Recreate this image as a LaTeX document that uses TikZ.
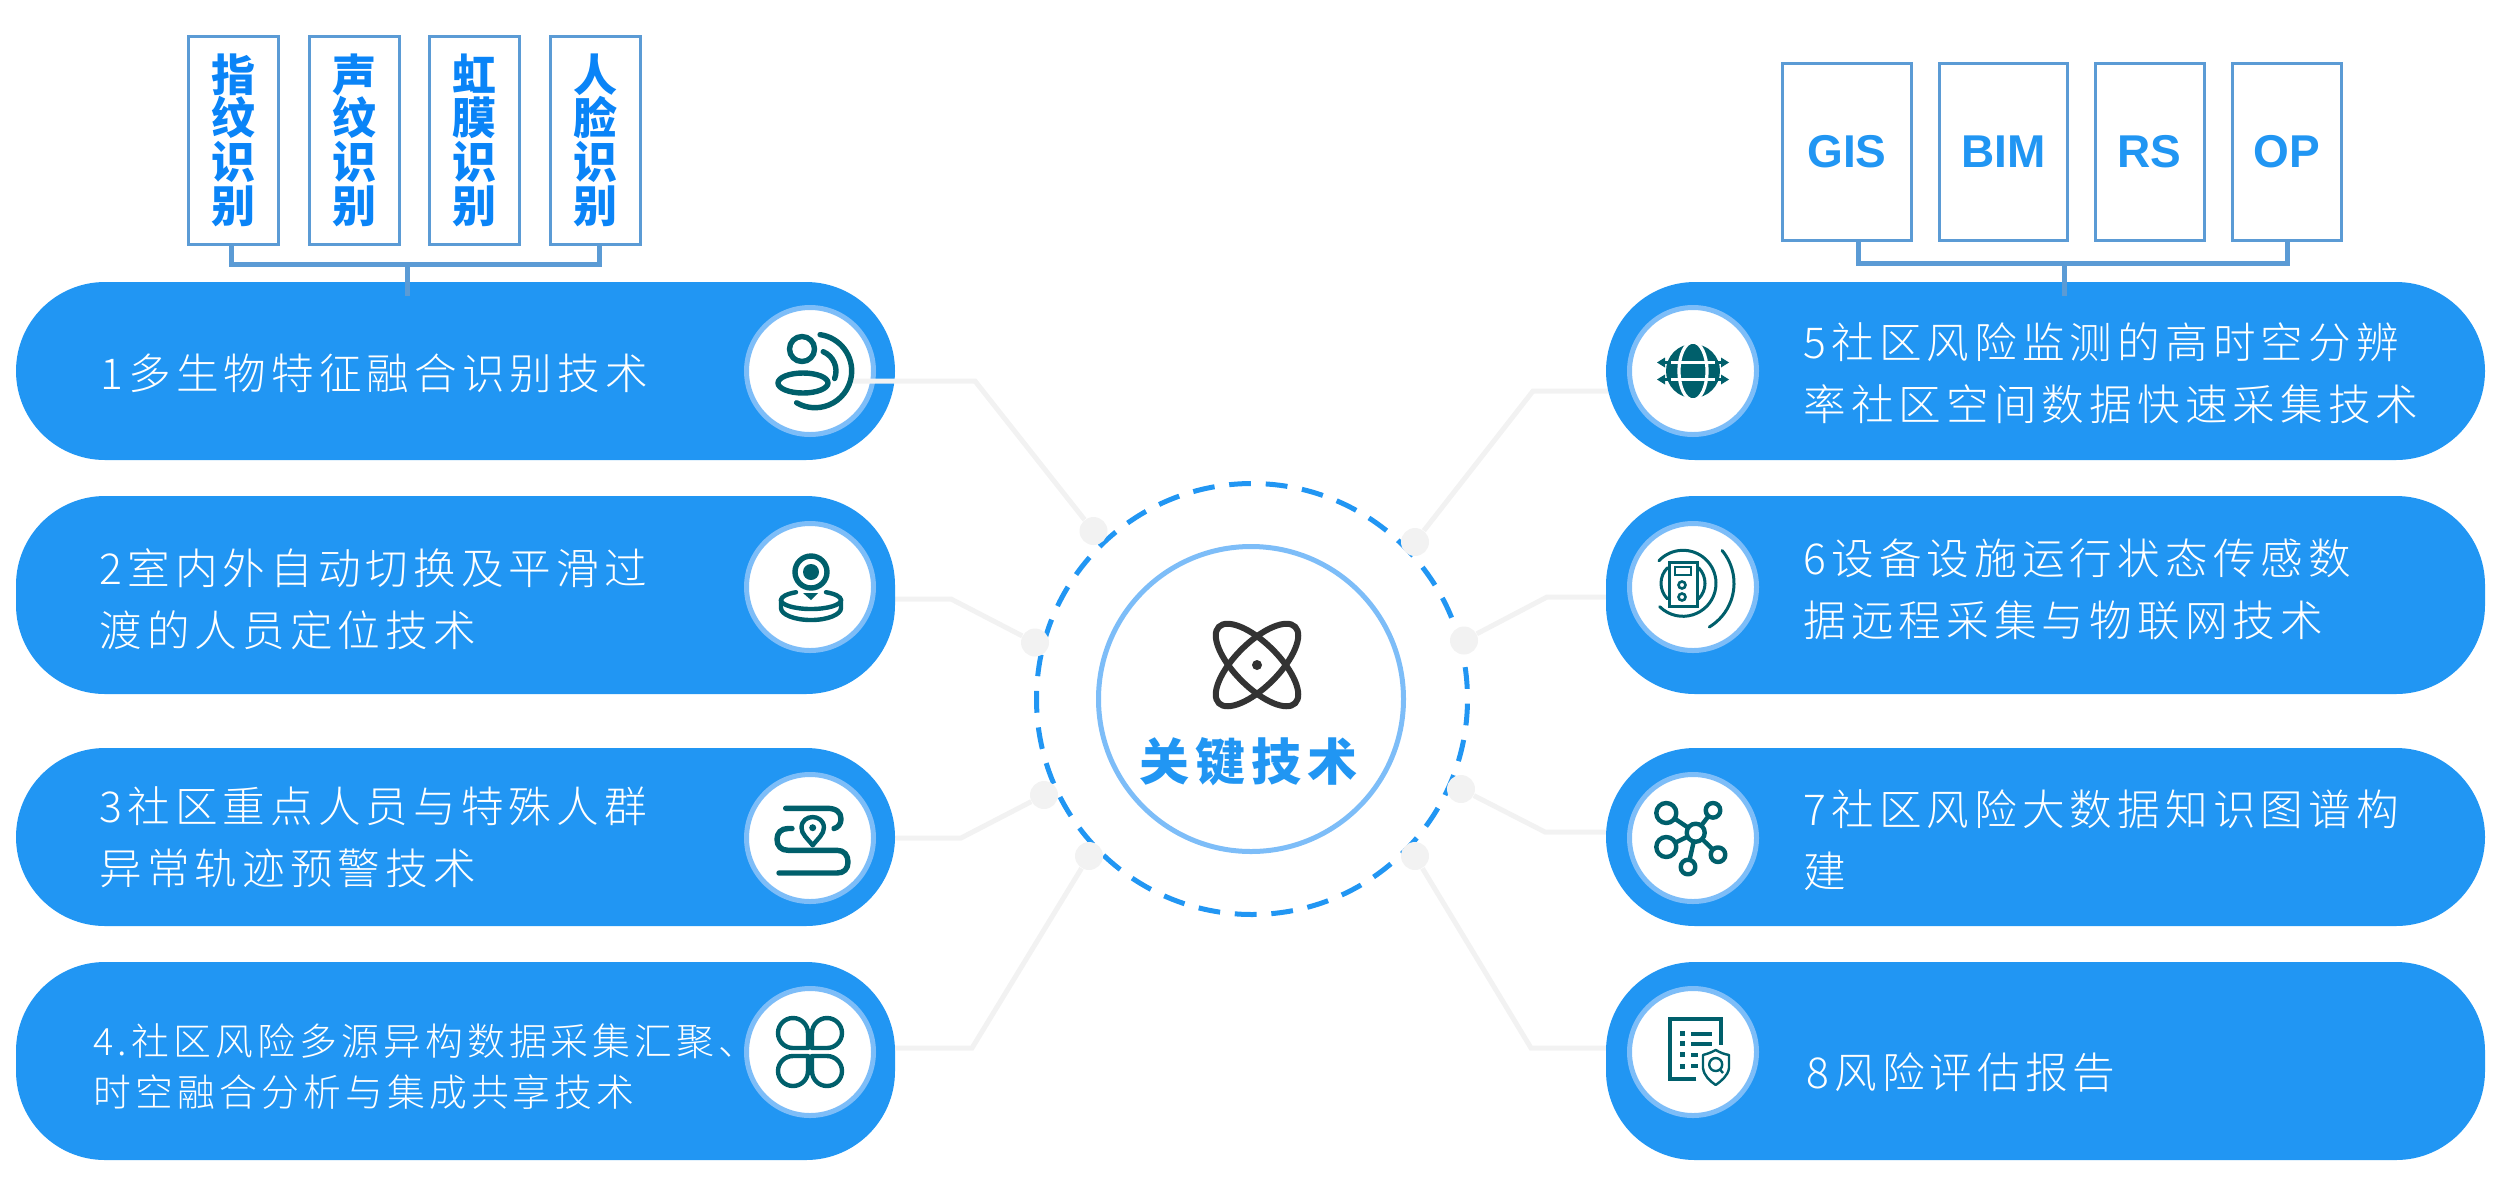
\documentclass[tikz,border=0pt]{standalone}
\usepackage{fontspec}
\setmainfont{Liberation Sans}
\newfontfamily\cjk[LetterSpace=12]{Noto Sans CJK SC Light}
\newfontfamily\cjkS[LetterSpace=11]{Noto Sans CJK SC Light}
\newfontfamily\cjkC[LetterSpace=12]{Noto Sans CJK SC}
\newfontfamily\cjkV{Noto Sans CJK SC}
\definecolor{pill}{HTML}{2196F3}
\definecolor{ringc}{HTML}{7DBDF8}
\definecolor{conn}{HTML}{F2F2F2}
\definecolor{brk}{HTML}{5B9BD5}
\definecolor{vtxt}{HTML}{0A84F7}
\definecolor{teal}{HTML}{005F6B}
\definecolor{atom}{HTML}{333333}
\tikzset{
  x=0.5pt,y=0.5pt,
  pillbox/.style={fill=pill,rounded corners=44.5pt,minimum width=439.5pt,inner sep=0pt},
  iconring/.style={circle,draw=ringc,fill=white,line width=2.5pt,minimum size=63.5pt,inner sep=0pt},
  connline/.style={draw=conn,line width=2.5pt,line join=miter},
  dotnode/.style={circle,fill=conn,minimum size=14pt,inner sep=0pt},
  brline/.style={draw=brk,line width=2.5pt},
  vbox/.style={draw=brk,line width=1.5pt,fill=white,minimum width=45pt,minimum height=104pt,inner sep=0pt,align=center,text=vtxt,font=\cjkV\bfseries\fontsize{22}{21.85}\selectfont},
  tbox/.style={draw=brk,line width=1.5pt,fill=white,minimum height=88.5pt,inner sep=0pt,text=pill,font=\bfseries\fontsize{23}{23}\selectfont},
  ptext/.style={anchor=west,align=left,text=white,inner sep=0pt,font=\cjk\fontsize{21.3}{31}\selectfont},
  ptexts/.style={anchor=west,align=left,text=white,inner sep=0pt,font=\cjkS\fontsize{18.9}{25.5}\selectfont},
  ic/.style={draw=teal,line width=2.7pt,line cap=round,line join=round},
  ict/.style={draw=teal,line width=2.2pt,line cap=round,line join=round},
}
\begin{document}
\begin{tikzpicture}
\useasboundingbox (0,0) rectangle (2506,-1190);
% dashed ring and connector dots
\draw[pill,line width=2.5pt,dash pattern=on 10.9pt off 7.4pt,dash phase=13.2pt] (1252,-699) circle (215.5);
\node[dotnode] (d1) at (1093.5,-531) {};
\node[dotnode] (d2) at (1035,-642.5) {};
\node[dotnode] (d3) at (1044,-795) {};
\node[dotnode] (d4) at (1089,-856) {};
\node[dotnode] (d5) at (1415,-542) {};
\node[dotnode] (d6) at (1464,-640.5) {};
\node[dotnode] (d7) at (1461,-789) {};
\node[dotnode] (d8) at (1415,-856) {};
% connector bends and free ends
\coordinate (s1) at (852,-381);   \coordinate (k1) at (975,-381);
\coordinate (s2) at (880,-599);   \coordinate (k2) at (951,-599);
\coordinate (s3) at (880,-838);   \coordinate (k3) at (961,-838);
\coordinate (s4) at (880,-1048);  \coordinate (k4) at (972,-1048);
\coordinate (s5) at (1625,-391);  \coordinate (k5) at (1533,-391);
\coordinate (s6) at (1625,-597);  \coordinate (k6) at (1547,-597);
\coordinate (s7) at (1625,-832);  \coordinate (k7) at (1545,-832);
\coordinate (s8) at (1625,-1048); \coordinate (k8) at (1531,-1048);
\draw[connline] (s2) -- (k2) -- (d2);
\draw[connline] (s3) -- (k3) -- (d3);
\draw[connline] (s4) -- (k4) -- (d4);
\draw[connline] (s5) -- (k5) -- (d5);
\draw[connline] (s6) -- (k6) -- (d6);
\draw[connline] (s7) -- (k7) -- (d7);
\draw[connline] (s8) -- (k8) -- (d8);
% pills
\node[pillbox,minimum height=89pt] (p1) at (455.5,-371) {};
\node[pillbox,minimum height=99pt] (p2) at (455.5,-595) {};
\node[pillbox,minimum height=89pt] (p3) at (455.5,-837) {};
\node[pillbox,minimum height=99pt] (p4) at (455.5,-1061) {};
\node[pillbox,minimum height=89pt] (p5) at (2045.5,-371) {};
\node[pillbox,minimum height=99pt] (p6) at (2045.5,-595) {};
\node[pillbox,minimum height=89pt] (p7) at (2045.5,-837) {};
\node[pillbox,minimum height=99pt] (p8) at (2045.5,-1061) {};
% icon discs
\node[iconring] (i1) at (810,-371) {};
\node[iconring] (i2) at (810,-587) {};
\node[iconring] (i3) at (810,-838) {};
\node[iconring] (i4) at (810,-1052) {};
\node[iconring] (i5) at (1693,-371) {};
\node[iconring] (i6) at (1693,-587) {};
\node[iconring] (i7) at (1693,-838) {};
\node[iconring] (i8) at (1693,-1052) {};
\draw[connline] (s1) -- (k1) -- (d1);
% centre
\node[circle,draw=ringc,fill=white,line width=2.5pt,minimum size=152.5pt,inner sep=0pt] (hub) at (1251,-699) {};
% top boxes
\node[vbox] (b1) at (233.25,-140) {指\\纹\\识\\别};
\node[vbox] (b2) at (354,-140) {声\\纹\\识\\别};
\node[vbox] (b3) at (474,-140) {虹\\膜\\识\\别};
\node[vbox] (b4) at (595,-140) {人\\脸\\识\\别};
\coordinate (lL) at (231,-264); \coordinate (lR) at (599,-264);
\coordinate (lM) at (407,-262); \coordinate (lE) at (407,-296);
\draw[brline] (lL |- b1.south) -- (lL) -- (lR) -- (lR |- b4.south);
\draw[brline] (lM) -- (lE);
\node[tbox,minimum width=64.5pt] (g1) at (1847,-151.5) {\raisebox{-1pt}{GIS}};
\node[tbox,minimum width=64pt] (g2) at (2003.5,-151.5) {\raisebox{-1pt}{BIM}};
\node[tbox,minimum width=54.5pt] (g3) at (2149.5,-151.5) {\raisebox{-1pt}{RS}};
\node[tbox,minimum width=54.5pt] (g4) at (2286.75,-151.5) {\raisebox{-1pt}{OP}};
\coordinate (rL) at (1858,-263); \coordinate (rR) at (2287,-263);
\coordinate (rM) at (2064,-262); \coordinate (rE) at (2064,-296);
\draw[brline] (rL |- g1.south) -- (rL) -- (rR) -- (rR |- g4.south);
\draw[brline] (rM) -- (rE);
% pill texts
\node[ptext] (t1) at (100,-373) {1多生物特征融合识别技术};
\node[ptext] (t2) at (99,-599.5) {2室内外自动切换及平滑过\\渡的人员定位技术};
\node[ptext] (t3) at (99,-837) {3社区重点人员与特殊人群\\异常轨迹预警技术};
\node[ptext] (t5) at (1803,-373) {5社区风险监测的高时空分辨\\率社区空间数据快速采集技术};
\node[ptext] (t6) at (1803,-589) {6设备设施运行状态传感数\\据远程采集与物联网技术};
\node[ptext] (t7) at (1803,-840) {7社区风险大数据知识图谱构\\建};
\node[ptext] (t8) at (1806,-1072) {8风险评估报告};
\node[ptexts] (t4) at (93,-1067) {4.社区风险多源异构数据采集汇聚、\\时空融合分析与集成共享技术};
% hub label and atom
\node[text=pill,inner sep=0pt,font=\cjkC\bfseries\fontsize{25}{25}\selectfont] (hl) at (1248,-762) {关键技术};
\begin{scope}[shift={(1257,-665)}]
 \draw[atom,line width=3pt,rotate=45] (0,0) ellipse (54 and 22);
 \draw[atom,line width=3pt,rotate=-45] (0,0) ellipse (54 and 22);
 \fill[atom] (0,0) circle (5);
\end{scope}
% icon 1
\begin{scope}[shift={(810,-371)}]
 \draw[ic] (-8,22) circle (12.5);
 \draw[ic] (-7,-12) ellipse (25 and 10);
 \draw[ic] (5,0)++(82:36.7) arc[start angle=82,end angle=-120,radius=36.7];
 \draw[ic] (5,0)++(67:21) arc[start angle=67,end angle=-21,radius=21];
\end{scope}
% icon 2
\begin{scope}[shift={(810,-587)}]
 \draw[ic] (1,15) circle (16);
 \fill[teal] (1,15) circle (8);
 \fill[teal] (-7,-6) -- (8,-6) -- (1,-13) -- cycle;
 \draw[ict] (1,-13)++(180:30) arc[start angle=180,end angle=360,x radius=30,y radius=9];
 \draw[ict] (-29,-13) arc[start angle=180,end angle=120,x radius=30,y radius=9];
 \draw[ict] (31,-13) arc[start angle=0,end angle=60,x radius=30,y radius=9];
 \draw[ict] (-29,-13) -- (-29,-21) arc[start angle=180,end angle=360,x radius=30,y radius=12] -- (31,-13);
\end{scope}
% icon 3
\begin{scope}[shift={(810,-838)}]
 \draw[ic] (-24.3,29.7) -- (17,29.7) .. controls (26,29.7) and (31,26) .. (31,19) .. controls (31,14) and (28,10.5) .. (24,9.5);
 \draw[ic] (-18,9.5) -- (-22,9.5) .. controls (-29,9.5) and (-33,5) .. (-33,-1.3) .. controls (-33,-8) and (-29,-12.3) .. (-22,-12.3) -- (27,-12.3) .. controls (34,-12.3) and (38,-17) .. (38,-24) .. controls (38,-31) and (34,-35) .. (27,-35) -- (-31,-35);
 \draw[ict] (2.7,-7.3) .. controls (-3,0) and (-8.5,4) .. (-8.5,10.3) .. controls (-8.5,24.5) and (13.9,24.5) .. (13.9,10.3) .. controls (13.9,4) and (8.4,0) .. (2.7,-7.3) -- cycle;
 \fill[teal] (2.7,10.3) circle (3.5);
\end{scope}
% icon 4
\begin{scope}[shift={(810,-1052)}]
 \foreach \sx/\sy in {1/1,-1/1,1/-1,-1/-1}{
  \begin{scope}[xscale=\sx,yscale=\sy]
   \draw[ict] (-2,4) -- (-17,4) arc[start angle=270,end angle=0,radius=15] -- cycle;
  \end{scope}}
\end{scope}
% icon 5
\begin{scope}[shift={(1693,-371)}]
 \fill[teal] (0,0) circle (27);
 \draw[white,line width=1.6pt] (0,0) ellipse (14 and 29);
 \draw[white,line width=1.6pt] (-30,8.5) -- (30,8.5) (-30,-8.5) -- (30,-8.5);
 \foreach \yy in {8.5,-8.5}{
  \fill[teal] (-36,\yy) -- (-28,\yy+5) -- (-28,\yy-5) -- cycle;
  \fill[teal] (36,\yy) -- (28,\yy+5) -- (28,\yy-5) -- cycle;
  \draw[teal,line width=1.2pt] (-29,\yy) -- (-22,\yy) (29,\yy) -- (22,\yy);
 }
\end{scope}
% icon 6
\begin{scope}[shift={(1693,-587)}]
 \draw[teal,line width=1.5pt,line cap=round] (-10,3.7)++(137:33) arc[start angle=137,end angle=-135,radius=33];
 \draw[teal,line width=1.5pt,line cap=round] (-10,3.7)++(135:22) arc[start angle=135,end angle=225,radius=22];
 \draw[teal,line width=1.5pt,line cap=round] (-10,3.7)++(45:22) arc[start angle=45,end angle=-45,radius=22];
 \draw[teal,line width=1.5pt,line cap=round] (-10,3.7)++(40:51) arc[start angle=40,end angle=-59,radius=51];
 \draw[teal,line width=1.5pt,fill=white] (-24,25) rectangle (4,-19);
 \draw[teal,line width=1.3pt] (-18,20) rectangle (-2,12);
 \draw[teal,line width=1.3pt] (-11,2) circle (3.5);
 \draw[teal,line width=1.3pt] (-11,-10) circle (3.5);
\end{scope}
% icon 7
\begin{scope}[shift={(1693,-838)}]
 \draw[ict] (2.7,5.3) -- (-26.7,25) (2.7,5.3) -- (20,27.7) (2.7,5.3) -- (-26.7,-9) (2.7,5.3) -- (25,-16.7) (2.7,5.3) -- (-5,-29);
 \draw[ict,fill=white] (2.7,5.3) circle (9);
 \draw[ict,fill=white] (-26.7,25) circle (10);
 \draw[ict,fill=white] (20,27.7) circle (7.3);
 \draw[ict,fill=white] (-26.7,-9) circle (10);
 \draw[ict,fill=white] (25,-16.7) circle (7.3);
 \draw[ict,fill=white] (-5,-29) circle (7.3);
\end{scope}
% icon 8
\begin{scope}[shift={(1693,-1052)}]
 \draw[teal,line width=2pt] (3.3,-26.7) -- (-23.3,-26.7) -- (-23.3,33.3) -- (27.7,33.3) -- (27.7,6.7);
 \foreach \yy in {18.3,8.3,-2.7,-14}{\fill[teal] (-13.5,\yy-2.5) rectangle (-8.5,\yy+2.5);}
 \draw[teal,line width=2pt] (-1.7,18.3) -- (19.3,18.3) (-1.7,8.3) -- (19.3,8.3) (-1.7,-2.7) -- (5,-2.7) (-1.7,-14) -- (5,-14);
 \draw[teal,line width=1.2pt,fill=white,line join=round] (22.7,2) .. controls (17,-1) and (14,-2) .. (10,-3) -- (10,-16) .. controls (11,-24) and (17,-29) .. (22.7,-33) .. controls (28,-29) and (35,-24) .. (36,-16) -- (36,-3) .. controls (31,-2) and (28,-1) .. (22.7,2) -- cycle;
 \draw[teal,line width=1.2pt] (22.7,-12.5) circle (6.5);
 \draw[teal,line width=1.2pt] (27,-17.5) -- (30,-21);
\end{scope}
\end{tikzpicture}
\end{document}
